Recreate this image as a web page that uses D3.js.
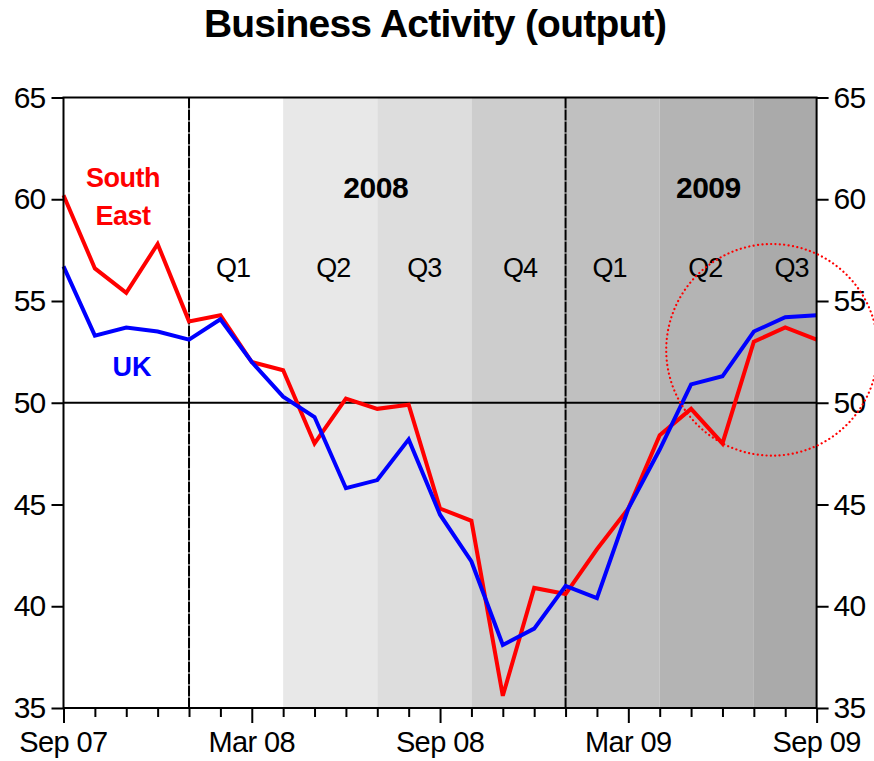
<!DOCTYPE html>
<html>
<head>
<meta charset="utf-8">
<script src="https://cdn.jsdelivr.net/npm/d3@7"></script>
<style>
  body { margin: 0; background: #fff; }
  svg { display: block; font-family: "Liberation Sans", Arial, sans-serif; }
</style>
</head>
<body>
<svg id="chart" width="874" height="761"></svg>
<script>
// dane - miesieczne odczyty PMI, wrzesien 2007 - wrzesien 2009
let months = ["Sep 07","Oct 07","Nov 07","Dec 07","Jan 08","Feb 08","Mar 08","Apr 08","May 08","Jun 08","Jul 08","Aug 08",
              "Sep 08","Oct 08","Nov 08","Dec 08","Jan 09","Feb 09","Mar 09","Apr 09","May 09","Jun 09","Jul 09","Aug 09","Sep 09"];
let southEast = [60.2,56.6,55.4,57.8,54.0,54.3,52.0,51.6,48.0,50.2,49.7,49.9,44.8,44.2,35.6,40.9,40.6,42.8,44.8,48.4,49.7,48.0,53.0,53.7,53.1];
let uk = [56.7,53.3,53.7,53.5,53.1,54.1,52.0,50.3,49.3,45.8,46.2,48.2,44.5,42.2,38.1,38.9,41.0,40.4,44.8,47.7,50.9,51.3,53.5,54.2,54.3];
let yTicks = [35,40,45,50,55,60,65];
let xLabels = ["Sep 07","Mar 08","Sep 08","Mar 09","Sep 09"];

// kwartaly (indeksy miesiecy) i ich odcienie szarosci
let quarterStart = [7,10,13,16,19,22];
let quarterEnd = [10,13,16,19,22,24];
let quarterFill = ["#e8e8e8","#dddddd","#cdcdcd","#c0c0c0","#b4b4b4","#aaaaaa"];
let quarterNames = ["Q1","Q2","Q3","Q4","Q1","Q2","Q3"];
let quarterPos = [5.4,8.6,11.5,14.55,17.4,20.45,23.2];
let yearNames = ["2008","2009"];
let yearPos = [9.95,20.55];
let yearLines = [4,16];

const W = 874, H = 761;
const mLeft = 63.5, mRight = 816.6, mTop = 97.5, mBottom = 708;

const svg = d3.select("#chart");
const x = d3.scaleLinear().domain([0, months.length-1]).range([mLeft, mRight]);
const y = d3.scaleLinear().domain([35, 65]).range([mBottom, mTop]);

//Tlo kwartalow
svg.append("g").selectAll("rect")
    .data(quarterStart)
    .enter().append("rect")
    .attr("x", d => x(d))
    .attr("y", mTop)
    .attr("width", (d,i) => x(quarterEnd[i]) - x(d))
    .attr("height", mBottom - mTop)
    .attr("fill", (d,i) => quarterFill[i]);

//Linia 50
svg.append("line")
    .attr("x1", mLeft).attr("x2", mRight)
    .attr("y1", y(50)).attr("y2", y(50))
    .attr("stroke", "#000").attr("stroke-width", 2);

//Linie oddzielajace lata
svg.append("g").selectAll("line")
    .data(yearLines)
    .enter().append("line")
    .attr("x1", d => x(d)).attr("x2", d => x(d))
    .attr("y1", mTop).attr("y2", mBottom)
    .attr("stroke", "#000").attr("stroke-width", 2)
    .attr("stroke-dasharray", "11,1");

//Napisy kwartalow i lat
svg.append("g").selectAll("text")
    .data(quarterNames)
    .enter().append("text")
    .attr("x", (d,i) => x(quarterPos[i]))
    .attr("y", 277)
    .attr("text-anchor", "middle")
    .attr("font-size", 27)
    .attr("letter-spacing", -1)
    .text(d => d);

svg.append("g").selectAll("text")
    .data(yearNames)
    .enter().append("text")
    .attr("x", (d,i) => x(yearPos[i]))
    .attr("y", 198)
    .attr("text-anchor", "middle")
    .attr("font-size", 30)
    .attr("font-weight", "bold")
    .attr("letter-spacing", -0.5)
    .text(d => d);

//Serie
const line = d3.line().x((d,i) => x(i)).y(d => y(d));
svg.append("path").datum(southEast)
    .attr("d", line).attr("fill", "none")
    .attr("stroke", "#ff0000").attr("stroke-width", 4).attr("stroke-linejoin", "miter");
svg.append("path").datum(uk)
    .attr("d", line).attr("fill", "none")
    .attr("stroke", "#0000ff").attr("stroke-width", 4).attr("stroke-linejoin", "miter");

//Ramka
svg.append("rect")
    .attr("x", mLeft).attr("y", mTop)
    .attr("width", mRight-mLeft).attr("height", mBottom-mTop)
    .attr("fill", "none").attr("stroke", "#000").attr("stroke-width", 2);

//Osie Y (lewa i prawa)
const yl = svg.append("g").attr("transform", "translate("+mLeft+",0)")
    .call(d3.axisLeft(y).tickValues(yTicks).tickSize(12).tickPadding(6));
const yr = svg.append("g").attr("transform", "translate("+mRight+",0)")
    .call(d3.axisRight(y).tickValues(yTicks).tickSize(12).tickPadding(5));
[yl, yr].forEach(function(g){
    g.select(".domain").remove();
    g.selectAll("line").attr("stroke", "#000").attr("stroke-width", 2);
    g.selectAll("text").attr("font-size", 30).attr("letter-spacing", -0.8)
        .attr("fill", "#000").attr("font-family", "Liberation Sans, Arial, sans-serif");
});

//Os X - male podzialki co miesiac, dluzsze przy opisach
const xa = svg.append("g").attr("transform", "translate(0,"+mBottom+")")
    .call(d3.axisBottom(x).tickValues(d3.range(months.length)).tickSize(9).tickFormat(""));
xa.select(".domain").remove();
xa.selectAll("line")
    .attr("stroke", "#000").attr("stroke-width", 2)
    .attr("y2", d => xLabels.includes(months[d]) ? 15 : 9);
svg.append("g").selectAll("text")
    .data(xLabels)
    .enter().append("text")
    .attr("x", d => x(months.indexOf(d)))
    .attr("y", 752)
    .attr("text-anchor", "middle")
    .attr("font-size", 29)
    .attr("letter-spacing", -0.6)
    .text(d => d);

//Opisy serii
svg.append("text").attr("x", 123).attr("y", 187)
    .attr("text-anchor", "middle").attr("font-size", 27).attr("font-weight", "bold")
    .attr("fill", "#ff0000").attr("letter-spacing", -0.5).text("South");
svg.append("text").attr("x", 123).attr("y", 225)
    .attr("text-anchor", "middle").attr("font-size", 27).attr("font-weight", "bold")
    .attr("fill", "#ff0000").attr("letter-spacing", -0.5).text("East");
svg.append("text").attr("x", 132).attr("y", 376)
    .attr("text-anchor", "middle").attr("font-size", 27).attr("font-weight", "bold")
    .attr("fill", "#0000ff").text("UK");

//Kropkowany okrag wokol ostatnich odczytow
let circleAt = [22.58, 52.6];
svg.append("circle")
    .attr("cx", x(circleAt[0]))
    .attr("cy", y(circleAt[1]))
    .attr("r", y(circleAt[1]-5.2) - y(circleAt[1]))
    .attr("fill", "none").attr("stroke", "#ff0000")
    .attr("stroke-width", 2.2).attr("stroke-linecap", "round")
    .attr("stroke-dasharray", "0.1,4.3");

//Tytul
svg.append("text").attr("x", 435).attr("y", 37)
    .attr("text-anchor", "middle").attr("font-size", 39).attr("font-weight", "bold")
    .attr("letter-spacing", -0.75).text("Business Activity (output)");
</script>
</body>
</html>
